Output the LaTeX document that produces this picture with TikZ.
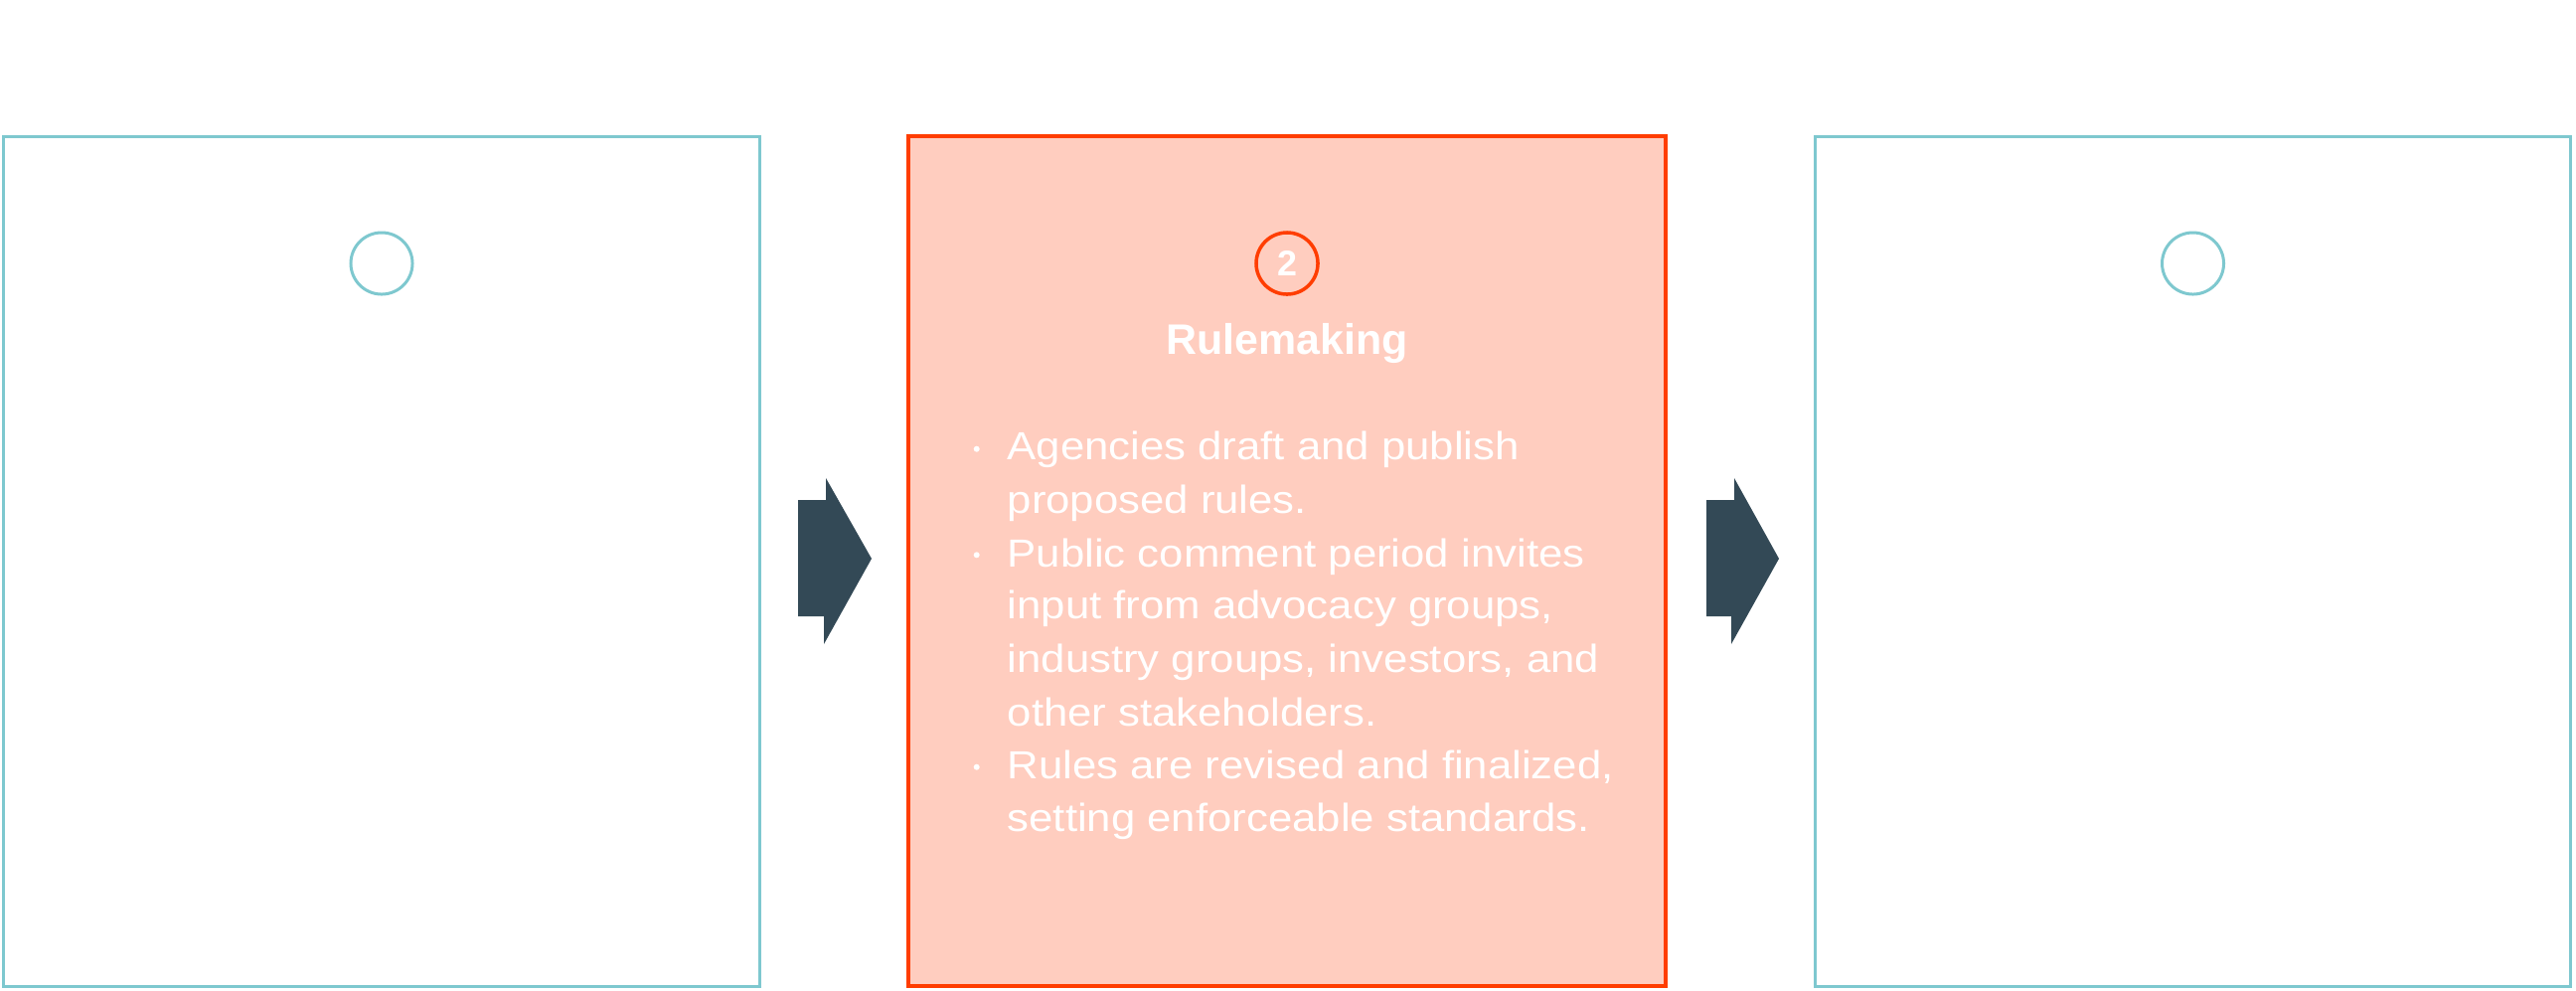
\documentclass[tikz,border=0pt]{standalone}
\usepackage{fontspec}
\setmainfont{Liberation Sans}
\newfontfamily\bodyfont{Liberation Sans}[FakeStretch=1.11]
\definecolor{cteal}{RGB}{126,200,207}
\definecolor{cred}{RGB}{255,61,0}
\definecolor{cfill}{RGB}{255,205,191}
\definecolor{carrow}{RGB}{51,73,86}
\tikzset{
  stage/.style={draw=cteal, line width=0.85pt, minimum width=7.6cm, minimum height=8.545cm, inner sep=0pt},
  badge/.style={circle, draw=cteal, line width=0.85pt, minimum size=0.62cm, inner sep=0pt},
  itemline/.style={anchor=base west, inner sep=0pt, text=white, font=\bodyfont\fontsize{11.2}{15}\selectfont},
  dot/.style={circle, fill=white, minimum size=0.06cm, inner sep=0pt},
  chevron/.style={fill=carrow}
}
\begin{document}
\begin{tikzpicture}[x=0.01cm,y=-0.01cm]
\useasboundingbox (0,0) rectangle (2592,996);
\fill[white] (0,0) rectangle (2592,996);
% stage boxes
\node[stage] (s1) at (384,564.75) {};
\node[stage, draw=cred, fill=cfill, line width=1.1pt, minimum width=7.62cm] (s2) at (1295,564.75) {};
\node[stage] (s3) at (2206.5,564.75) {};
% badges
\node[badge] (c1) at (384,265) {};
\node[badge, draw=cred, line width=1pt, text=white, font=\bfseries\fontsize{10.2}{12}\selectfont] (c2) at (1295,265) {2};
\node[badge] (c3) at (2206.5,265) {};
% title
\node[anchor=base, inner sep=0pt, text=white, font=\bfseries\fontsize{12.2}{15}\selectfont] (t2) at (1295,356.7) {Rulemaking};
% bullets
\node[dot] (d1) at (982.7,451.7) {};
\node[dot] (d2) at (982.7,558.3) {};
\node[dot] (d3) at (982.7,771.7) {};
\node[itemline] (l1) at (1013,462.7) {Agencies draft and publish};
\node[itemline] (l2) at (1013,516.7) {proposed rules.};
\node[itemline] (l3) at (1013,570.0) {Public comment period invites};
\node[itemline] (l4) at (1013,622.7) {input from advocacy groups,};
\node[itemline] (l5) at (1013,676.7) {industry groups, investors, and};
\node[itemline] (l6) at (1013,730.0) {other stakeholders.};
\node[itemline] (l7) at (1013,783.3) {Rules are revised and finalized,};
\node[itemline] (l8) at (1013,836.7) {setting enforceable standards.};
% arrows between stages
\fill[chevron] (803,503) -- (831,503) -- (831,481) -- (877,562) -- (829,648) -- (829,620) -- (803,620) -- cycle;
\fill[chevron] (1717,503) -- (1745,503) -- (1745,481) -- (1790,562) -- (1742,648) -- (1742,620) -- (1717,620) -- cycle;
\end{tikzpicture}
\end{document}
